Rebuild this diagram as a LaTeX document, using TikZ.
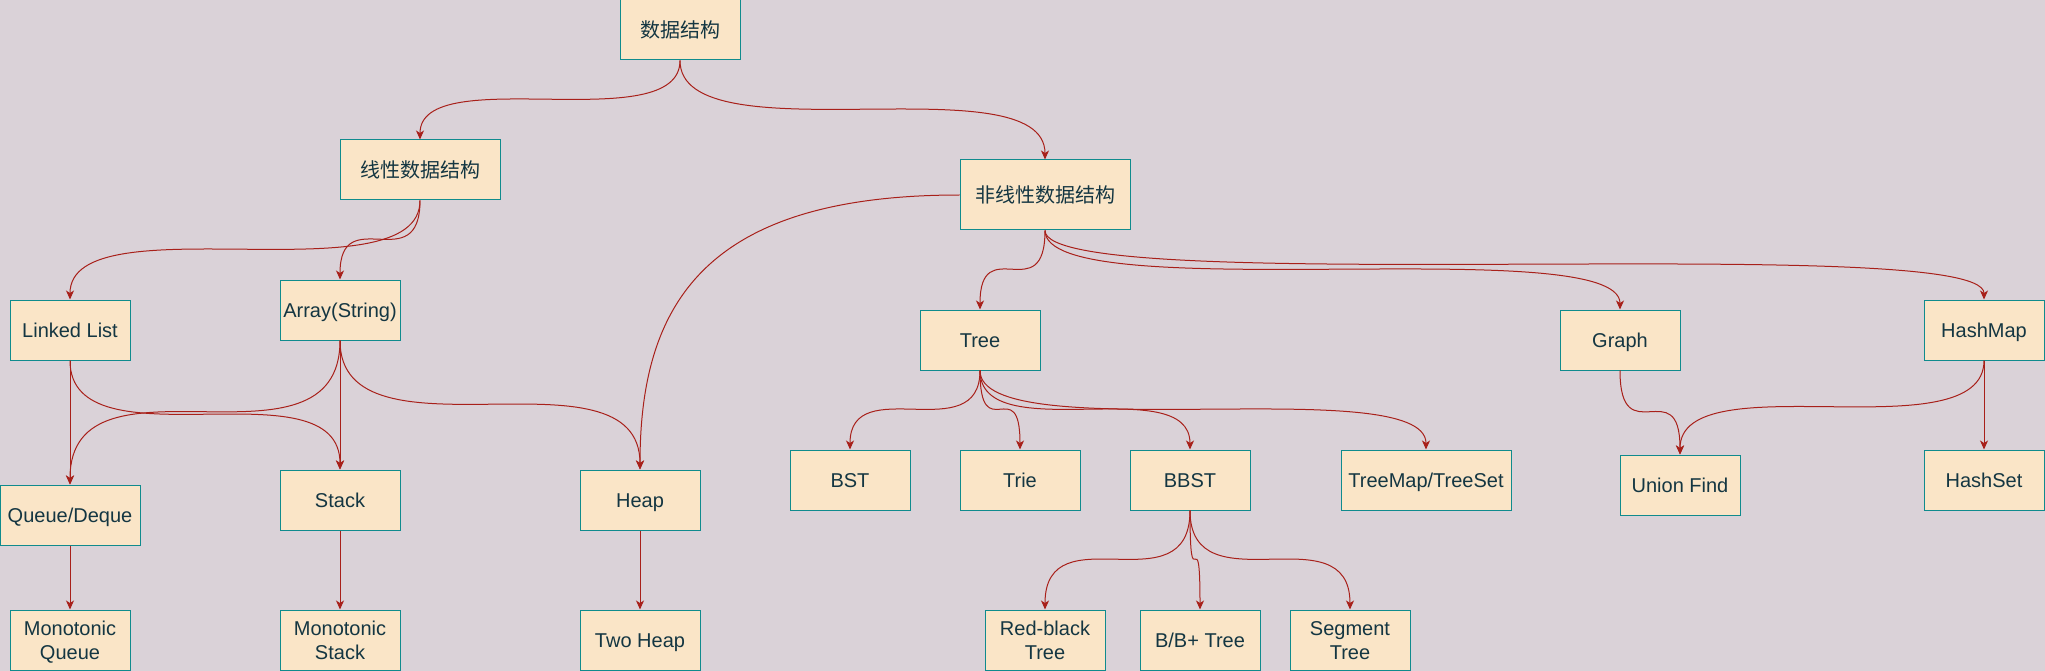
\documentclass[tikz,border=0pt]{standalone}
\usepackage{fontspec}
\setmainfont{Liberation Sans}
\newfontfamily\cjk{Noto Sans CJK SC}
\usetikzlibrary{arrows.meta,calc}
\definecolor{bgc}{HTML}{DAD2D8}
\definecolor{fillc}{HTML}{FAE5C7}
\definecolor{strokec}{HTML}{0F8B8D}
\definecolor{textc}{HTML}{143642}
\definecolor{edgec}{HTML}{A8201A}
\newcommand\curv[2]{\draw[edge] (#1.south) .. controls (#1.south |- #2.north) and (#2.north |- #1.south) .. (#2.north);}
\newcommand\strt[2]{\draw[edge] (#1.south) -- (#2.north);}
\begin{document}
\begin{tikzpicture}[x=1pt,y=-1pt,
  box/.style={draw=strokec, fill=fillc, line width=1pt, text=textc,
    minimum width=120pt, minimum height=60pt, inner sep=0pt, align=center,
    text height=18pt, text depth=3pt,
    font=\fontsize{20}{24}\selectfont},
  twoline/.style={text height=42pt, text depth=3pt},
  edge/.style={draw=edgec, line width=1pt, -{Stealth[length=9pt,width=8pt,inset=2.5pt]}}]
\fill[bgc] (0,0) rectangle (2045,671);
\useasboundingbox (0,0) rectangle (2045,671);
% nodes
\node[box] (root) at (680,30) {\cjk 数据结构};
\node[box, minimum width=160pt] (lin) at (420,170) {\cjk 线性数据结构};
\node[box, minimum width=170pt, minimum height=70pt] (non) at (1045,195) {\cjk 非线性数据结构};
\node[box] (ll) at (70,330) {Linked List};
\node[box] (arr) at (340,310) {Array(String)};
\node[box] (tree) at (980,340) {Tree};
\node[box] (graph) at (1620,340) {Graph};
\node[box] (hmap) at (1984,330) {HashMap};
\node[box, minimum width=140pt] (queue) at (70,515) {Queue/Deque};
\node[box] (stack) at (340,500) {Stack};
\node[box] (heap) at (640,500) {Heap};
\node[box, twoline] (monoq) at (70,640) {Monotonic\\Queue};
\node[box, twoline] (monos) at (340,640) {Monotonic\\Stack};
\node[box] (twoheap) at (640,640) {Two Heap};
\node[box] (bst) at (850,480) {BST};
\node[box] (trie) at (1020,480) {Trie};
\node[box] (bbst) at (1190,480) {BBST};
\node[box, minimum width=170pt] (tmap) at (1426,480) {TreeMap/TreeSet};
\node[box] (uf) at (1680,485) {Union Find};
\node[box] (hset) at (1984,480) {HashSet};
\node[box, twoline] (rb) at (1045,640) {Red-black\\Tree};
\node[box] (bb) at (1200,640) {B/B+ Tree};
\node[box, twoline] (seg) at (1350,640) {Segment\\Tree};
% edges
\curv{root}{lin}
\curv{root}{non}
\curv{lin}{ll}
\curv{lin}{arr}
\curv{non}{tree}
\curv{non}{graph}
\curv{non}{hmap}
\draw[edge] (non.west) .. controls ($(non.west)!0.8!(non.west -| heap.north)$) and ($(heap.north)!0.6!(heap.north |- non.west)$) .. (heap.north);
\strt{ll}{queue}
\curv{ll}{stack}
\curv{arr}{queue}
\strt{arr}{stack}
\curv{arr}{heap}
\strt{queue}{monoq}
\strt{stack}{monos}
\strt{heap}{twoheap}
\curv{tree}{bst}
\curv{tree}{trie}
\curv{tree}{bbst}
\curv{tree}{tmap}
\curv{bbst}{rb}
\curv{bbst}{bb}
\curv{bbst}{seg}
\curv{graph}{uf}
\curv{hmap}{uf}
\strt{hmap}{hset}
\end{tikzpicture}
\end{document}
